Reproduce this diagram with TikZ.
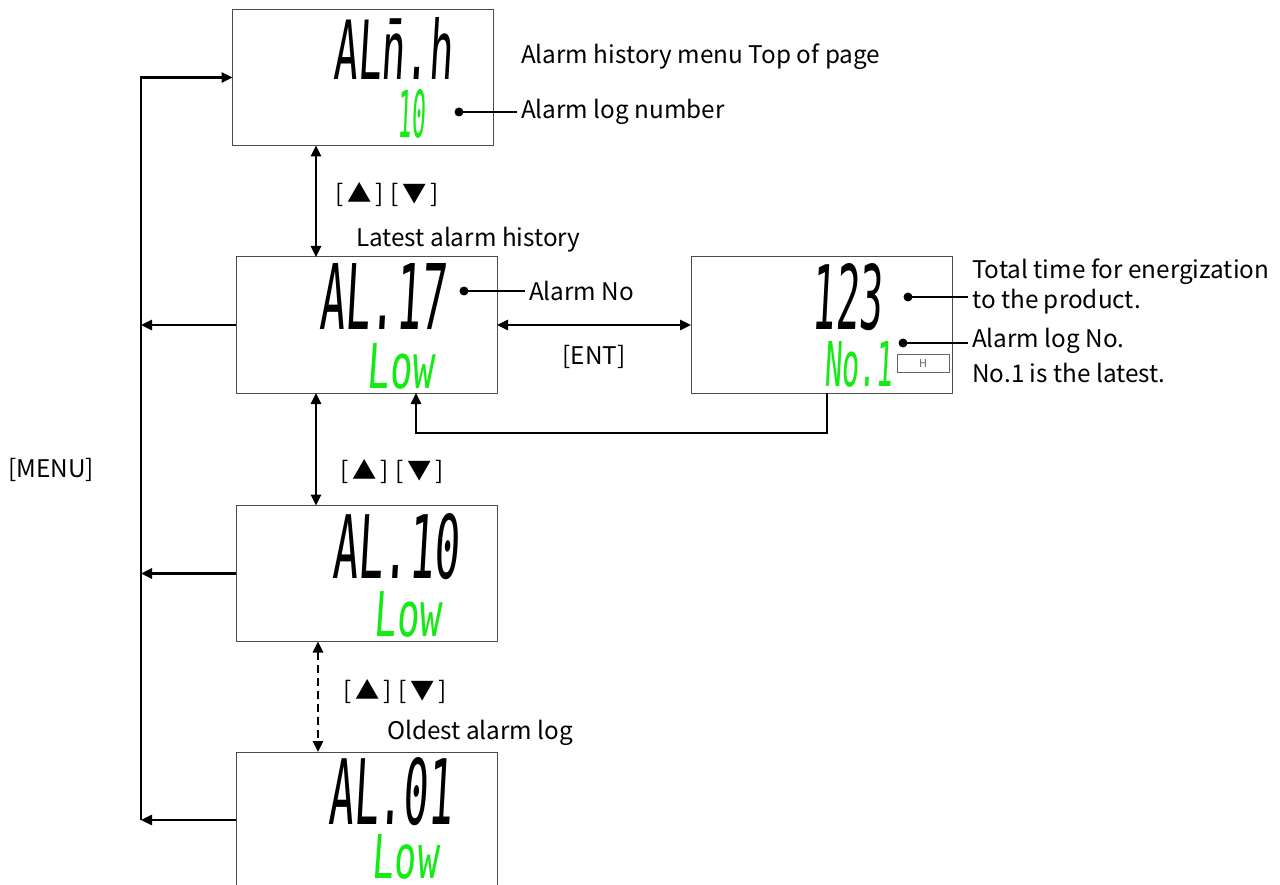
\documentclass[tikz,border=0pt]{standalone}
\usepackage{fontspec}
\setmainfont{Noto Sans CJK JP}
\newfontfamily\segfont[FakeSlant=0.12]{DejaVu Sans Mono}
\usetikzlibrary{arrows.meta}
\definecolor{lcdgreen}{RGB}{20,235,20}
\newcommand{\segtxt}[3]{\resizebox{#1pt}{#2pt}{\segfont #3}}
\newcommand{\updown}{[\hspace{4pt}▲\hspace{4pt}]\hspace{6pt}[\hspace{4pt}▼\hspace{4pt}]}
\tikzset{
  lcd/.style={draw=black!70, line width=1pt, minimum width=261pt, minimum height=136pt, inner sep=0pt, outer sep=0pt},
  seg/.style={inner sep=0pt, outer sep=0pt},
  lbl/.style={inner sep=4pt, font=\fontsize{24.3}{28}\selectfont},
  conn/.style={line width=2.5pt, line join=miter},
  arr/.style={conn, -{Triangle[length=11pt,width=10pt]}},
  darr/.style={conn, {Triangle[length=11pt,width=10pt]}-{Triangle[length=11pt,width=10pt]}},
  lead/.style={line width=2pt},
}
\begin{document}
\begin{tikzpicture}[x=1pt,y=-1pt]
\useasboundingbox (0,0) rectangle (1280,885);

% boxes
\node[lcd] (b1) at (363,77.5) {};
\node[lcd] (b2) at (366.5,325) {};
\node[lcd] (b3) at (821.5,325) {};
\node[lcd] (b4) at (366.5,573.5) {};
\node[lcd] (b5) at (366.5,820) {};

% display contents
\node[seg] (s1a) at (393,48.5) {\segtxt{120}{62}{AL\=n.h}};
\node[seg,text=lcdgreen] (s1b) at (411,114) {\segtxt{28}{48}{10}};
\node[seg] (s2a) at (382.5,296) {\segtxt{127}{66}{AL.17}};
\node[seg,text=lcdgreen] (s2b) at (400.5,366) {\segtxt{67}{45}{Low}};
\node[seg] (s3a) at (847,297.5) {\segtxt{70}{66}{123}};
\node[seg,text=lcdgreen] (s3b) at (858.5,364) {\segtxt{69}{45}{No.1}};
\node[draw=black!60, line width=0.8pt, minimum width=52pt, minimum height=18pt, inner sep=0pt, text=black!60, font=\fontsize{11}{12}\selectfont] (hb) at (923,363.5) {H};
\node[seg] (s4a) at (395.5,546.5) {\segtxt{127}{65}{AL.10}};
\node[seg,text=lcdgreen] (s4b) at (407.5,614) {\segtxt{67}{45}{Low}};
\node[seg] (s5a) at (390.5,791.5) {\segtxt{125}{67}{AL.01}};
\node[seg,text=lcdgreen] (s5b) at (405,857) {\segtxt{66}{44}{Low}};

% MENU loop
\coordinate (mt) at (141,77.5);
\coordinate (mb) at (141,820);
\draw[arr] (mb) -- (mt) -- (b1.west);
\draw[arr] (b2.west) -- (b2.west -| mt);
\draw[arr] (b4.west) -- (b4.west -| mt);
\draw[arr] (b5.west) -- (b5.west -| mt);
\node[lbl] (menu) at (51,470) {[MENU]};

% vertical navigation
\coordinate (ax) at (316,0);
\coordinate (bx) at (318,0);
\draw[darr] (b1.south -| ax) -- (b2.north -| ax);
\draw[darr] (b2.south -| ax) -- (b4.north -| ax);
\draw[darr, dash pattern=on 8pt off 5pt] (b4.south -| bx) -- (b5.north -| bx);
\node[lbl] (k1) at (387,195) {\updown};
\node[lbl] (k2) at (392,472) {\updown};
\node[lbl] (k3) at (395,692) {\updown};
\node[lbl, anchor=west] (latest) at (352,240) {Latest alarm history};
\node[lbl, anchor=west] (oldest) at (383,733) {Oldest alarm log};

% ENT
\draw[darr] (b2.east) -- (b3.west);
\node[lbl] (ent) at (594,357) {[ENT]};
\coordinate (r1) at (827,433);
\coordinate (r2) at (416,433);
\draw[arr] (b3.south -| r1) -- (r1) -- (r2) -- (b2.south -| r2);

% annotations
\node[lbl, anchor=west] (l0) at (517,57) {Alarm history menu Top of page};
\coordinate (d1) at (459,112);
\node[lbl, anchor=west] (l1) at (517,112) {Alarm log number};
\fill (d1) circle (4.5pt);
\draw[lead] (d1) -- (l1.west);

\coordinate (d2) at (464,291);
\node[lbl, anchor=west] (l2) at (525,291) {Alarm No};
\fill (d2) circle (4.5pt);
\draw[lead] (d2) -- (l2.west);

\coordinate (d3) at (908,297);
\node[lbl, anchor=west] (l3a) at (968,272) {Total time for energization};
\node[lbl, anchor=west] (l3b) at (968,302) {to the product.};
\fill (d3) circle (4.5pt);
\draw[lead] (d3) -- (l3b.west |- d3);

\coordinate (d4) at (903,343);
\node[lbl, anchor=west] (l4a) at (968,341) {Alarm log No.};
\node[lbl, anchor=west] (l4b) at (968,373) {No.1 is the latest.};
\fill (d4) circle (4.5pt);
\draw[lead] (d4) -- (l4a.west |- d4);
\end{tikzpicture}
\end{document}
